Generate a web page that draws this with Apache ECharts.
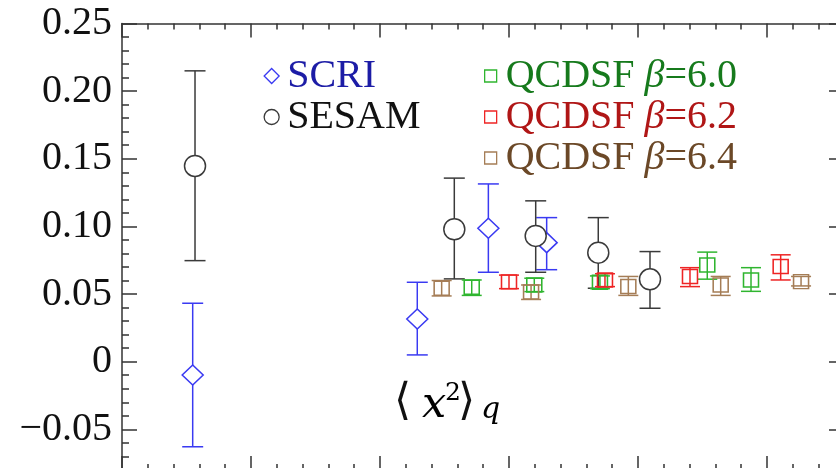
<!DOCTYPE html>
<html>
<head>
<meta charset="utf-8">
<script src="https://cdn.jsdelivr.net/npm/echarts@6/dist/echarts.min.js"></script>
<style>html,body{margin:0;padding:0;background:#fff;}#c{width:836px;height:468px;}</style>
</head>
<body>
<div id="c"></div>
<script>
// ---- data (x position, value, error-bar low, error-bar high) ----
const xSCRI  = [0.548, 2.289, 2.840, 3.292];
const ySCRI  = [-0.0098, 0.0316, 0.0987, 0.088];
const loSCRI = [-0.0629, 0.005, 0.0661, 0.068];
const hiSCRI = [0.0432, 0.0587, 0.1314, 0.1065];

const xSESAM  = [0.566, 2.576, 3.207, 3.692, 4.093];
const ySESAM  = [0.1447, 0.0979, 0.093, 0.0806, 0.0609];
const loSESAM = [0.0747, 0.0612, 0.0661, 0.0543, 0.0395];
const hiSESAM = [0.215, 0.1357, 0.1189, 0.1065, 0.0814];

const xQ60  = [2.711, 3.196, 3.705, 4.537, 4.876];
const yQ60  = [0.055, 0.0567, 0.0587, 0.0715, 0.0604];
const loQ60 = [0.049, 0.0518, 0.054, 0.061, 0.052];
const hiQ60 = [0.0604, 0.0617, 0.0634, 0.081, 0.0695];

const xQ62  = [3.0, 3.744, 4.403, 5.106];
const yQ62  = [0.059, 0.0604, 0.0629, 0.0703];
const loQ62 = [0.054, 0.0555, 0.0555, 0.0604];
const hiQ62 = [0.064, 0.065, 0.0695, 0.079];

const xQ64  = [2.478, 3.171, 3.925, 4.641, 5.264];
const yQ64  = [0.0543, 0.0515, 0.0556, 0.0567, 0.0592];
const loQ64 = [0.0486, 0.046, 0.049, 0.049, 0.056];
const hiQ64 = [0.060, 0.0567, 0.063, 0.063, 0.063];

const seriesNames = ['SCRI', 'SESAM', 'QCDSF β=6.0', 'QCDSF β=6.2', 'QCDSF β=6.4'];

const yMajorTicks = [-0.05, 0, 0.05, 0.10, 0.15, 0.20, 0.25];
const yTickLabels = ['\u22120.05', '0', '0.05', '0.10', '0.15', '0.20', '0.25'];
const yMinorTicks = [-0.08, -0.07, -0.06, -0.04, -0.03, -0.02, -0.01, 0.01, 0.02, 0.03, 0.04,
  0.06, 0.07, 0.08, 0.09, 0.11, 0.12, 0.13, 0.14, 0.16, 0.17, 0.18, 0.19, 0.21, 0.22, 0.23, 0.24];

// ---- styling ----
const markColors = ['#3a3af2', '#3a3a3a', '#2fb52f', '#ee2424', '#a57d56'];
const textColors = ['#1c1ca6', '#111111', '#167a1c', '#b01616', '#6b4827'];
const axisCol = '#333';
const serif = 'Liberation Serif';

function rows(xs, ys, lo, hi) { return xs.map((x, i) => [x, ys[i], lo[i], hi[i]]); }
const groups = [
  rows(xSCRI, ySCRI, loSCRI, hiSCRI),
  rows(xSESAM, ySESAM, loSESAM, hiSESAM),
  rows(xQ60, yQ60, loQ60, hiQ60),
  rows(xQ62, yQ62, loQ62, hiQ62),
  rows(xQ64, yQ64, loQ64, hiQ64)
];
const symbols = ['diamond', 'circle', 'rect', 'rect', 'rect'];
const symSizes = [[21, 20], 21, [15, 14], [15, 14], [15, 14]];
const fills = ['#fff', '#fff', 'rgba(255,255,255,0)', 'rgba(255,255,255,0)', 'rgba(255,255,255,0)'];
const capHalf = [10.5, 10.5, 10, 10, 10];

const series = [];
groups.forEach((data, k) => {
  const c = markColors[k];
  series.push({
    name: '_err' + k, type: 'custom', xAxisIndex: 0, yAxisIndex: 0, z: 2,
    data: data, encode: { x: 0, y: 1 },
    renderItem: function (params, api) {
      const x = api.value(0);
      const pLo = api.coord([x, api.value(2)]);
      const pHi = api.coord([x, api.value(3)]);
      const w = capHalf[k];
      const st = { stroke: c, lineWidth: 1.5 };
      return { type: 'group', children: [
        { type: 'line', shape: { x1: pLo[0], y1: pLo[1], x2: pHi[0], y2: pHi[1] }, style: st },
        { type: 'line', shape: { x1: pLo[0] - w, y1: pLo[1], x2: pLo[0] + w, y2: pLo[1] }, style: st },
        { type: 'line', shape: { x1: pHi[0] - w, y1: pHi[1], x2: pHi[0] + w, y2: pHi[1] }, style: st }
      ]};
    }
  });
});
groups.forEach((data, k) => {
  series.push({
    name: seriesNames[k], type: 'scatter', xAxisIndex: 0, yAxisIndex: 0, z: 3,
    data: data.map(r => [r[0], r[1]]),
    symbol: symbols[k], symbolSize: symSizes[k],
    itemStyle: { color: fills[k], borderColor: markColors[k], borderWidth: 1.5, opacity: 1 }
  });
});

const lineStyle = { color: axisCol, width: 1.5 };
function xAx(pos) {
  return { type: 'value', position: pos, min: 0, max: 6, interval: 1,
    axisLine: { show: true, onZero: false, lineStyle: lineStyle },
    axisTick: { show: true, inside: true, length: 14, lineStyle: lineStyle },
    minorTick: { show: true, splitNumber: 5, length: 6, lineStyle: lineStyle },
    axisLabel: { show: false }, splitLine: { show: false }, minorSplitLine: { show: false } };
}
function yMajor(pos, off, labels) {
  return { type: 'value', position: pos, offset: off, min: -0.08, max: 0.25,
    axisLine: { show: true, onZero: false, lineStyle: lineStyle },
    axisTick: { show: true, inside: true, length: 15, customValues: yMajorTicks, lineStyle: lineStyle },
    axisLabel: { show: labels, customValues: yMajorTicks, margin: 10,
      fontFamily: serif, fontSize: 40, color: '#111',
      formatter: function (v) {
        const i = yMajorTicks.findIndex(t => Math.abs(t - v) < 1e-9);
        return i >= 0 ? yTickLabels[i] : '';
      } },
    splitLine: { show: false } };
}
function yMinor(pos, off) {
  return { type: 'value', position: pos, offset: off, min: -0.08, max: 0.25,
    axisLine: { show: false, onZero: false },
    axisTick: { show: true, inside: true, length: 7, customValues: yMinorTicks, lineStyle: lineStyle },
    axisLabel: { show: false }, splitLine: { show: false } };
}

function legendFmt(name) { return name.replace('β', '{it|β}'); }
function legendOpt(names, idx, left, iconSize, pad) {
  return {
    orient: 'vertical', left: left, top: 50.5, itemGap: 0,
    itemWidth: iconSize, itemHeight: iconSize,
    itemStyle: { borderWidth: 1.3 },
    data: names.map((n, j) => ({ name: n, textStyle: { color: textColors[idx[j]] } })),
    formatter: legendFmt,
    textStyle: { fontFamily: serif, fontSize: 40, lineHeight: 41, padding: [0, 0, 0, pad],
      rich: { it: { fontFamily: serif, fontSize: 40, lineHeight: 41, fontStyle: 'italic' } } },
    selectedMode: false
  };
}

const option = {
  animation: false,
  backgroundColor: '#fff',
  grid: { left: 122, top: 23.5, right: -60, bottom: -1.9, containLabel: false, outerBoundsMode: 'none' },
  xAxis: [xAx('bottom'), xAx('top')],
  yAxis: [yMajor('left', 0, true), yMinor('left', 0), yMajor('right', -52, false), yMinor('right', -52)],
  legend: [
    legendOpt(['SCRI', 'SESAM'], [0, 1], 258.5, 15, 3),
    legendOpt(['QCDSF β=6.0', 'QCDSF β=6.2', 'QCDSF β=6.4'], [2, 3, 4], 479, 12, 4)
  ],
  graphic: [
    { type: 'text', x: 394, y: 403, style: { text: '⟨', fontFamily: 'DejaVu Serif', fontSize: 44, fill: '#111', verticalAlign: 'middle' } },
    { type: 'text', x: 422, y: 406, style: { text: 'x', fontFamily: 'DejaVu Serif', fontStyle: 'italic', fontSize: 43, fill: '#000', verticalAlign: 'middle' } },
    { type: 'text', x: 445, y: 393, style: { text: '2', fontFamily: 'DejaVu Serif', fontSize: 25, fill: '#000', verticalAlign: 'middle' } },
    { type: 'text', x: 458, y: 403, style: { text: '⟩', fontFamily: 'DejaVu Serif', fontSize: 44, fill: '#111', verticalAlign: 'middle' } },
    { type: 'text', x: 481, y: 410, style: { text: 'q', fontFamily: 'DejaVu Serif', fontStyle: 'italic', fontSize: 30, fill: '#000', verticalAlign: 'middle' } }
  ],
  series: series
};

const chart = echarts.init(document.getElementById('c'), null, { renderer: 'canvas' });
chart.setOption(option);
</script>
</body>
</html>
